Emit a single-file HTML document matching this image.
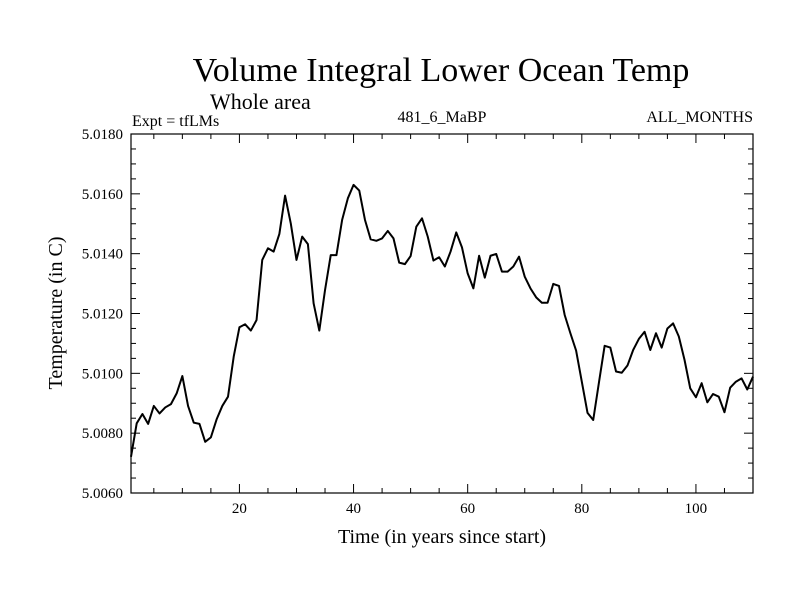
<!DOCTYPE html>
<html><head><meta charset="utf-8"><style>
body{margin:0;background:#fff}
svg text{font-family:"Liberation Serif",serif;fill:#000}
</style></head><body>
<svg id="c" width="800" height="600">
<text x="441" y="81" font-size="34" text-anchor="middle">Volume Integral Lower Ocean Temp</text>
<text x="210" y="109" font-size="22">Whole area</text>
<text x="132" y="126" font-size="16">Expt = tfLMs</text>
<text x="442" y="122" font-size="16" text-anchor="middle">481_6_MaBP</text>
<text x="753" y="122" font-size="16" text-anchor="end">ALL_MONTHS</text>
<text x="442" y="543" font-size="20" text-anchor="middle">Time (in years since start)</text>
<text transform="translate(62,313) rotate(-90)" font-size="20" text-anchor="middle">Temperature (in C)</text>
<g id="ax"></g>
</svg>
<script>
const values=[5.00721,5.00833,5.00864,5.00831,5.00891,5.00866,5.00886,5.00897,5.00933,5.00991,5.00891,5.00835,5.00831,5.00771,5.00786,5.00846,5.00891,5.00922,5.01056,5.01154,5.01164,5.01143,5.01178,5.01379,5.01418,5.01407,5.01466,5.01594,5.01501,5.01379,5.01457,5.01432,5.01234,5.01143,5.01278,5.01395,5.01395,
5.01513,5.01585,5.01630,5.01611,5.01513,5.01448,5.01443,5.01451,5.01476,5.01451,5.01370,5.01365,5.01392,5.01490,5.01518,5.01457,5.01377,5.01388,5.01357,5.01407,5.01471,5.01421,5.01334,5.01284,5.01393,5.01320,5.01393,5.01399,5.01340,5.01340,5.01357,5.01390,5.01323,5.01284,5.01254,5.01236,
5.01236,5.01299,5.01292,5.01195,5.01134,5.01076,5.00972,5.00868,5.00844,5.00969,5.01092,5.01086,5.01006,5.01002,5.01026,5.01078,5.01115,5.01139,5.01078,5.01134,5.01086,5.01150,5.01167,5.01123,5.01045,5.00950,5.00920,5.00967,5.00903,5.00931,5.00922,5.00870,5.00952,5.00972,5.00983,5.00946,5.00989];
const years=values.map((v,i)=>i+1);
const xTicks=[20,40,60,80,100];
const yTicks=[5.006,5.008,5.010,5.012,5.014,5.016,5.018];
const yTickLabels=["5.0060","5.0080","5.0100","5.0120","5.0140","5.0160","5.0180"];
const L=131,R=753,T=134,B=493,ymin=5.006,ymax=5.018;
const xmin=years[0],xmax=years[years.length-1];
const sx=v=>L+(v-xmin)/(xmax-xmin)*(R-L);
const sy=v=>B-(v-ymin)/(ymax-ymin)*(B-T);
const NS="http://www.w3.org/2000/svg";
const g=document.getElementById('ax');
function mk(t,a){const e=document.createElementNS(NS,t);for(const k in a)e.setAttribute(k,a[k]);g.appendChild(e);return e;}
const frame=mk('rect',{x:L,y:T,width:R-L,height:B-T,fill:'none',stroke:'#000','stroke-width':1.2});


for(let v=5;v<=xmax;v+=5){const x=sx(v),len=v%20===0?9:5;
const t1=mk('line',{x1:x,x2:x,y1:B,y2:B-len,stroke:'#000'});


const t2=mk('line',{x1:x,x2:x,y1:T,y2:T+len,stroke:'#000'});

}
xTicks.forEach(v=>{const t=mk('text',{x:sx(v),y:513,'font-size':15,'text-anchor':'middle'});t.textContent=v;

});
for(let k=0;k<=24;k++){const v=ymin+k*0.0005,y=sy(v),len=k%4===0?9:5;
const t1=mk('line',{x1:L,x2:L+len,y1:y,y2:y,stroke:'#000'});


const t2=mk('line',{x1:R,x2:R-len,y1:y,y2:y,stroke:'#000'});

}
yTicks.forEach((v,i)=>{const t=mk('text',{x:123,y:sy(v)+5,'font-size':15,'text-anchor':'end'});t.textContent=yTickLabels[i];

});
const line=mk('polyline',{points:values.map((v,i)=>sx(years[i])+','+sy(v)).join(' '),fill:'none',stroke:'#000','stroke-width':2,'stroke-linejoin':'round'});


</script>
</body></html>
